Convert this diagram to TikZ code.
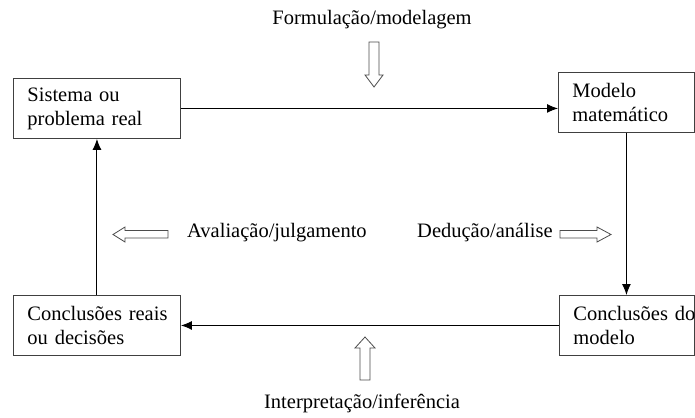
\documentclass[tikz,border=0pt]{standalone}
\usepackage{fontspec}
\setmainfont{Liberation Serif}
\usetikzlibrary{arrows.meta,calc}

\begin{document}
\begin{tikzpicture}[x=1pt,y=-1pt,
  bloco/.style={draw=black!75, line width=0.9pt, minimum height=60pt, inner xsep=14pt, inner ysep=0pt,
    align=left, anchor=north west, font=\fontsize{20.5}{24}\selectfont},
  rotulo/.style={font=\fontsize{20.5}{24}\selectfont, inner sep=0pt},
  liga/.style={line width=1pt, -{Latex[length=11pt,width=9pt]}},
  vazada/.style={draw=black!70, line width=0.8pt, fill=white}]
\useasboundingbox (0,0) rectangle (695,417);
% caixas
\node[bloco, text width=139pt] (sistema) at (13,78) {\mbox{Sistema ou}\\\mbox{problema real}};
\node[bloco, text width=108pt] (modelo) at (558,72) {Modelo\\matemático};
\node[bloco, text width=139pt] (reais) at (13,295) {\mbox{Conclusões reais}\\\mbox{ou decisões}};
\node[bloco, text width=107pt] (concl) at (559,295) {\mbox{Conclusões do}\\modelo};
% ciclo
\draw[liga] (sistema.east) -- (sistema.east -| modelo.west);
\draw[liga] (modelo.south) -- (modelo.south |- concl.north);
\draw[liga] (concl.west) -- (concl.west -| reais.east);
\draw[liga] (reais.north) -- (sistema.south);
% rotulos
\node[rotulo, anchor=base] (formulacao) at (372,25) {Formulação/modelagem};
\node[rotulo, anchor=base] (interpretacao) at (362,408) {Interpretação/inferência};
\node[rotulo, anchor=base west] (avaliacao) at (187,237) {Avaliação/julgamento};
\node[rotulo, anchor=base west] (deducao) at (417,237) {Dedução/análise};
% setas vazadas
\draw[vazada] (369,42) -- (379,42) -- (379,75) -- (383,75) -- (374,87) -- (365,75) -- (369,75) -- cycle;
\draw[vazada] (360,380) -- (370,380) -- (370,348) -- (375,348) -- (365,337) -- (355,348) -- (360,348) -- cycle;
\draw[vazada] (168,230.5) -- (125,230.5) -- (125,227) -- (113,234.5) -- (125,242) -- (125,238) -- (168,238) -- cycle;
\draw[vazada] (560,230.5) -- (597,230.5) -- (597,227) -- (611,234.5) -- (597,242) -- (597,238) -- (560,238) -- cycle;
\end{tikzpicture}
\end{document}
